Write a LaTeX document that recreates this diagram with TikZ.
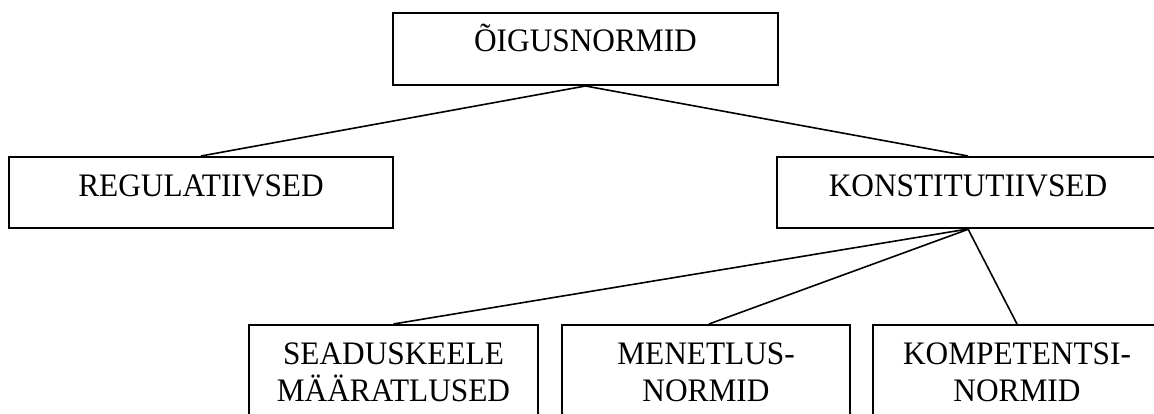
\documentclass[tikz,border=0pt]{standalone}
\usepackage{fontspec}
\setmainfont{Liberation Serif}[FakeStretch=0.955]
\usetikzlibrary{calc}
\begin{document}
\begin{tikzpicture}[x=1pt,y=-1pt,
  box/.style={draw, line width=2pt, inner sep=0pt},
  lbl/.style={anchor=base, inner sep=0pt, font=\fontsize{32.8}{37}\selectfont},
  conn/.style={line width=1.6pt}]
\useasboundingbox (0,0) rectangle (1154,414);
% boxes
\node[box, minimum width=385pt, minimum height=72pt] (top) at (585.5,49) {};
\node[box, minimum width=384pt, minimum height=71pt] (reg) at (201,192.5) {};
\node[box, minimum width=382pt, minimum height=71pt] (kon) at (968,192.5) {};
\node[box, minimum width=289pt, minimum height=110pt] (b1) at (393.5,380) {};
\node[box, minimum width=288pt, minimum height=110pt] (b2) at (706,380) {};
\node[box, minimum width=288pt, minimum height=110pt] (b3) at (1017,380) {};
% texts
\node[lbl] (ttop) at ($(top.north)+(0,40)$) {ÕIGUSNORMID};
\node[lbl] (treg) at ($(reg.north)+(0,41)$) {REGULATIIVSED};
\node[lbl] (tkon) at ($(kon.north)+(0,41)$) {KONSTITUTIIVSED};
\node[lbl] (tb1a) at ($(b1.north)+(0,40)$) {SEADUSKEELE};
\node[lbl] (tb1b) at ($(b1.north)+(0,77)$) {MÄÄRATLUSED};
\node[lbl] (tb2a) at ($(b2.north)+(0,40)$) {MENETLUS-};
\node[lbl] (tb2b) at ($(b2.north)+(0,77)$) {NORMID};
\node[lbl] (tb3a) at ($(b3.north)+(0,40)$) {KOMPETENTSI-};
\node[lbl] (tb3b) at ($(b3.north)+(0,77)$) {NORMID};
% connectors
\draw[conn] (top.south) -- (reg.north);
\draw[conn] (top.south) -- (kon.north);
\draw[conn] (kon.south) -- (b1.north);
\draw[conn] ($(kon.south)+(1,0)$) -- ($(b2.north)+(3,0)$);
\draw[conn] (kon.south) -- (b3.north);
\end{tikzpicture}
\end{document}
